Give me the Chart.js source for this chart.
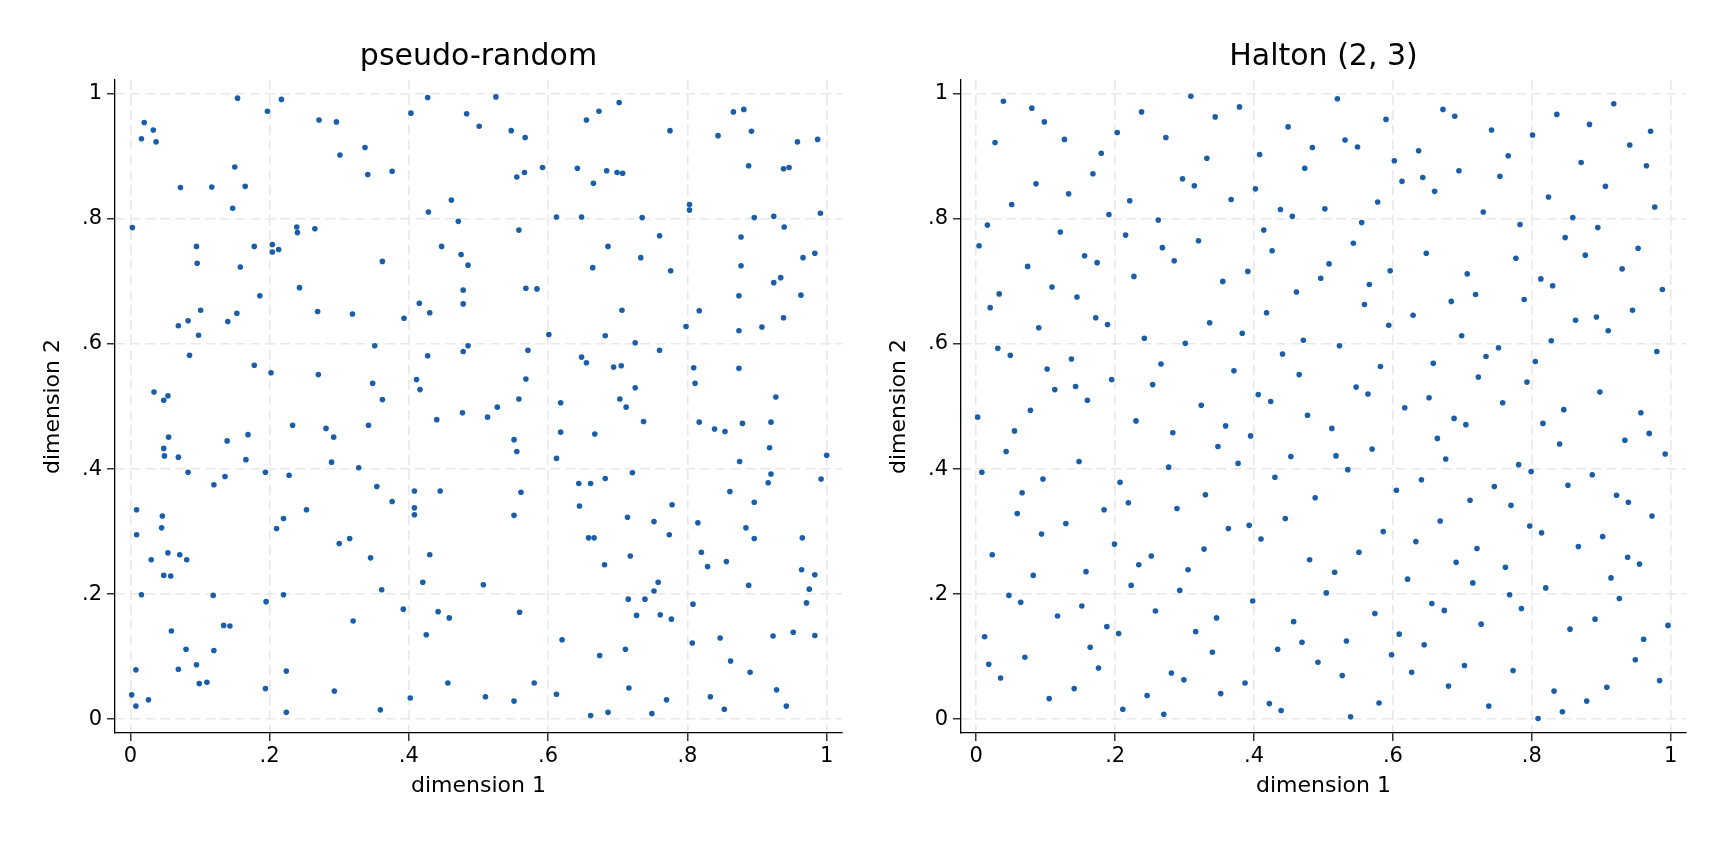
<!DOCTYPE html>
<html>
<head>
<meta charset="utf-8">
<title>pseudo-random vs Halton (2, 3)</title>
<script src="https://cdn.jsdelivr.net/npm/chart.js@4.4.1/dist/chart.umd.min.js"></script>
<style>
  html, body { margin: 0; padding: 0; background: #fff; }
  #wrap { position: relative; width: 1728px; height: 844px; }
  canvas { position: absolute; top: 0; }
</style>
</head>
<body>
<div id="wrap">
  <canvas id="randomChart" width="846" height="844" style="left:0px"></canvas>
  <canvas id="haltonChart" width="882" height="844" style="left:846px"></canvas>
</div>
<script>
var tickValues = [0, 0.2, 0.4, 0.6, 0.8, 1];
var tickLabels = ['0', '.2', '.4', '.6', '.8', '1'];
var panelTitles = ['pseudo-random', 'Halton (2, 3)'];
var axisTitles = ['dimension 1', 'dimension 2'];

// pseudo-random draws
var randomX = [
  0.020,0.033,0.016,0.037,0.154,0.197,0.217,0.271,0.296,0.301,0.337,0.341,0.376,0.403,0.427,0.150,0.072,0.117,0.165,0.147,
  0.003,0.428,0.239,0.240,0.265,0.095,0.178,0.204,0.204,0.213,0.096,0.158,0.362,0.243,0.186,0.101,0.083,0.069,0.098,0.140,
  0.153,0.269,0.319,0.393,0.415,0.430,0.085,0.178,0.351,0.427,
  0.525,0.483,0.501,0.547,0.567,0.655,0.673,0.702,0.775,0.866,0.881,0.892,0.844,0.958,0.987,0.555,0.566,0.592,0.642,0.665,
  0.684,0.699,0.707,0.888,0.938,0.946,0.461,0.471,0.612,0.648,0.735,0.803,0.803,0.896,0.924,0.991,0.939,0.558,0.447,0.475,
  0.485,0.686,0.760,0.877,0.733,0.664,0.776,0.877,0.966,0.983,0.478,0.478,0.568,0.584,0.874,0.924,0.934,0.963,0.706,0.817,
  0.938,0.798,0.874,0.907,0.601,0.682,0.725,0.760,0.485,0.478,0.571,0.648,0.655,0.694,0.705,0.809,0.874,
  0.202,0.270,0.348,0.411,0.416,0.362,0.440,0.034,0.054,0.048,0.233,0.281,0.292,0.342,0.055,0.169,0.139,0.048,0.049,0.069,
  0.166,0.289,0.083,0.194,0.228,0.328,0.136,0.120,0.354,0.408,0.445,0.376,0.408,0.408,0.009,0.046,0.220,0.045,0.210,0.253,
  0.009,0.300,0.315,0.030,0.054,0.071,0.081,0.345,0.430,0.048,0.058,0.420,0.016,0.119,0.220,0.195,0.361,0.392,0.442,0.425,
  0.320,0.059,0.134,0.143,0.080,0.120,0.008,0.069,0.095,0.099,0.110,0.224,0.194,0.293,0.402,0.002,0.008,0.026,0.224,0.359,
  0.568,0.558,0.527,0.513,0.477,0.551,0.555,0.618,0.618,0.667,0.612,0.725,0.703,0.712,0.737,0.811,0.817,0.839,0.854,0.879,
  0.920,0.927,0.918,0.875,1.000,0.992,0.920,0.916,0.861,0.896,0.884,0.896,0.965,0.964,0.983,0.975,0.971,0.888,0.815,0.820,
  0.829,0.856,0.644,0.661,0.682,0.721,0.645,0.714,0.752,0.778,0.774,0.658,0.666,0.681,0.718,0.758,0.752,0.715,0.739,0.727,
  0.761,0.777,0.808,0.807,0.847,0.862,0.890,0.923,0.952,0.983,0.928,0.942,0.833,0.853,0.770,0.749,0.716,0.686,0.661,0.612,
  0.620,0.674,0.711,0.507,0.559,0.458,0.456,0.510,0.551,0.580,0.561,0.551
];
var randomY = [
  0.954,0.942,0.928,0.923,0.993,0.972,0.991,0.958,0.955,0.902,0.914,0.871,0.876,0.969,0.994,0.883,0.850,0.851,0.852,0.817,
  0.786,0.811,0.787,0.778,0.784,0.756,0.756,0.759,0.747,0.751,0.729,0.723,0.732,0.690,0.677,0.654,0.637,0.629,0.614,0.636,
  0.649,0.652,0.648,0.641,0.665,0.650,0.582,0.566,0.597,0.581,
  0.995,0.968,0.948,0.941,0.930,0.958,0.972,0.986,0.941,0.971,0.975,0.940,0.933,0.923,0.927,0.867,0.874,0.882,0.881,0.857,
  0.877,0.874,0.873,0.885,0.880,0.882,0.830,0.796,0.803,0.803,0.802,0.823,0.814,0.802,0.804,0.809,0.787,0.782,0.756,0.743,
  0.726,0.756,0.773,0.771,0.738,0.722,0.717,0.725,0.738,0.745,0.686,0.664,0.689,0.688,0.677,0.698,0.706,0.678,0.654,0.653,
  0.642,0.628,0.621,0.627,0.615,0.613,0.602,0.590,0.597,0.588,0.590,0.579,0.570,0.563,0.565,0.562,0.561,
  0.554,0.551,0.537,0.543,0.527,0.511,0.479,0.523,0.517,0.510,0.470,0.465,0.451,0.470,0.451,0.455,0.445,0.433,0.421,0.419,
  0.415,0.411,0.395,0.395,0.390,0.402,0.388,0.375,0.372,0.365,0.365,0.348,0.338,0.327,0.335,0.325,0.321,0.306,0.305,0.335,
  0.295,0.281,0.289,0.255,0.266,0.263,0.255,0.258,0.263,0.230,0.229,0.219,0.199,0.198,0.199,0.188,0.207,0.176,0.172,0.135,
  0.157,0.141,0.150,0.149,0.112,0.110,0.079,0.080,0.087,0.057,0.059,0.077,0.049,0.045,0.034,0.039,0.021,0.031,0.011,0.015,
  0.544,0.512,0.499,0.483,0.490,0.447,0.428,0.506,0.459,0.456,0.417,0.530,0.512,0.499,0.476,0.537,0.475,0.464,0.460,0.473,
  0.475,0.515,0.434,0.412,0.422,0.384,0.392,0.378,0.364,0.347,0.306,0.289,0.290,0.239,0.231,0.208,0.186,0.214,0.314,0.267,
  0.244,0.252,0.377,0.377,0.385,0.394,0.341,0.323,0.316,0.343,0.295,0.290,0.290,0.247,0.261,0.219,0.205,0.192,0.192,0.166,
  0.167,0.160,0.184,0.122,0.130,0.093,0.075,0.133,0.139,0.134,0.047,0.021,0.036,0.016,0.031,0.009,0.050,0.011,0.006,0.040,
  0.127,0.102,0.112,0.215,0.171,0.162,0.058,0.036,0.029,0.058,0.363,0.326
];

// Halton points of the right panel, base 2 and base 3
var haltonX = [
  0.813,0.188,0.688,0.438,0.938,0.031,0.531,0.281,0.781,0.156, 0.656,0.406,0.906,0.094,0.594,0.344,0.844,0.219,0.719,0.469,
  0.969,0.016,0.516,0.266,0.766,0.141,0.641,0.391,0.891,0.078, 0.578,0.328,0.828,0.203,0.703,0.453,0.953,0.047,0.547,0.297,
  0.797,0.172,0.672,0.422,0.922,0.109,0.609,0.359,0.859,0.234, 0.734,0.484,0.984,0.008,0.508,0.258,0.758,0.133,0.633,0.383,
  0.883,0.070,0.570,0.320,0.820,0.195,0.695,0.445,0.945,0.039, 0.539,0.289,0.789,0.164,0.664,0.414,0.914,0.102,0.602,0.352,
  0.852,0.227,0.727,0.477,0.977,0.023,0.523,0.273,0.773,0.148, 0.648,0.398,0.898,0.086,0.586,0.336,0.836,0.211,0.711,0.461,
  0.961,0.055,0.555,0.305,0.805,0.180,0.680,0.430,0.930,0.117, 0.617,0.367,0.867,0.242,0.742,0.492,0.992,0.004,0.504,0.254,
  0.754,0.129,0.629,0.379,0.879,0.066,0.566,0.316,0.816,0.191, 0.691,0.441,0.941,0.035,0.535,0.285,0.785,0.160,0.660,0.410,
  0.910,0.098,0.598,0.348,0.848,0.223,0.723,0.473,0.973,0.020, 0.520,0.270,0.770,0.145,0.645,0.395,0.895,0.082,0.582,0.332,
  0.832,0.207,0.707,0.457,0.957,0.051,0.551,0.301,0.801,0.176, 0.676,0.426,0.926,0.113,0.613,0.363,0.863,0.238,0.738,0.488,
  0.988,0.012,0.512,0.262,0.762,0.137,0.637,0.387,0.887,0.074, 0.574,0.324,0.824,0.199,0.699,0.449,0.949,0.043,0.543,0.293,
  0.793,0.168,0.668,0.418,0.918,0.105,0.605,0.355,0.855,0.230, 0.730,0.480,0.980,0.027,0.527,0.277,0.777,0.152,0.652,0.402,
  0.902,0.090,0.590,0.340,0.840,0.215,0.715,0.465,0.965,0.059, 0.559,0.309,0.809,0.184,0.684,0.434,0.934,0.121,0.621,0.371,
  0.871,0.246,0.746,0.496,0.996,0.002,0.502,0.252,0.752,0.127, 0.627,0.377,0.877,0.064,0.564,0.314,0.814,0.189,0.689,0.439,
  0.939,0.033,0.533,0.283,0.783,0.158,0.658,0.408,0.908,0.096, 0.596,0.346,0.846,0.221,0.721,0.471,0.971,0.018,0.518,0.268,
  0.768,0.143,0.643,0.393,0.893,0.080,0.580,0.330,0.830,0.205, 0.705,0.455,0.955,0.049,0.549,0.299,0.799,0.174,0.674,0.424
];
var haltonY = [
  0.704,0.148,0.481,0.815,0.259,0.593,0.926,0.074,0.407,0.741, 0.185,0.519,0.852,0.296,0.630,0.963,0.012,0.346,0.679,0.123,
  0.457,0.790,0.235,0.568,0.901,0.049,0.383,0.716,0.160,0.494, 0.827,0.272,0.605,0.938,0.086,0.420,0.753,0.198,0.531,0.864,
  0.309,0.642,0.975,0.025,0.358,0.691,0.136,0.469,0.802,0.247, 0.580,0.914,0.062,0.395,0.728,0.173,0.506,0.840,0.284,0.617,
  0.951,0.099,0.432,0.765,0.210,0.543,0.877,0.321,0.654,0.988, 0.004,0.337,0.671,0.115,0.449,0.782,0.226,0.560,0.893,0.041,
  0.374,0.708,0.152,0.486,0.819,0.263,0.597,0.930,0.078,0.412, 0.745,0.189,0.523,0.856,0.300,0.634,0.967,0.016,0.350,0.683,
  0.128,0.461,0.794,0.239,0.572,0.905,0.053,0.387,0.720,0.165, 0.498,0.831,0.276,0.609,0.942,0.091,0.424,0.757,0.202,0.535,
  0.868,0.313,0.646,0.979,0.029,0.362,0.695,0.140,0.473,0.807, 0.251,0.584,0.918,0.066,0.399,0.733,0.177,0.510,0.844,0.288,
  0.621,0.955,0.103,0.436,0.770,0.214,0.547,0.881,0.325,0.658, 0.992,0.008,0.342,0.675,0.119,0.453,0.786,0.230,0.564,0.897,
  0.045,0.379,0.712,0.156,0.490,0.823,0.267,0.601,0.934,0.082, 0.416,0.749,0.193,0.527,0.860,0.305,0.638,0.971,0.021,0.354,
  0.687,0.132,0.465,0.798,0.243,0.576,0.909,0.058,0.391,0.724, 0.169,0.502,0.835,0.280,0.613,0.947,0.095,0.428,0.761,0.206,
  0.539,0.872,0.317,0.650,0.984,0.033,0.366,0.700,0.144,0.477, 0.811,0.255,0.588,0.922,0.070,0.403,0.737,0.181,0.514,0.848,
  0.292,0.626,0.959,0.107,0.440,0.774,0.218,0.551,0.885,0.329, 0.663,0.996,0.001,0.335,0.668,0.112,0.446,0.779,0.224,0.557,
  0.890,0.038,0.372,0.705,0.150,0.483,0.816,0.261,0.594,0.927, 0.075,0.409,0.742,0.187,0.520,0.853,0.298,0.631,0.964,0.014,
  0.347,0.680,0.125,0.458,0.791,0.236,0.569,0.903,0.051,0.384, 0.717,0.162,0.495,0.829,0.273,0.606,0.940,0.088,0.421,0.754,
  0.199,0.532,0.866,0.310,0.643,0.977,0.026,0.359,0.693,0.137, 0.471,0.804,0.248,0.582,0.915,0.063,0.396,0.730,0.174,0.508
];

var dotColor = '#1b5ea8';
var fontFamily = "'DejaVu Sans', 'Noto Sans', sans-serif";

function makeAxis(titleText, isX) {
  return {
    type: 'linear',
    min: -0.022,
    max: 1.022,
    afterBuildTicks: function(scale) {
      scale.ticks = tickValues.map(function(v) { return { value: v }; });
    },
    afterFit: function(scale) {
      if (isX) { scale.height = 111; } else { scale.width = 115; }
    },
    ticks: {
      callback: function(value, index) { return tickLabels[index]; },
      color: '#000',
      font: { family: fontFamily, size: 21 },
      padding: isX ? 3 : 5,
      maxRotation: 0
    },
    grid: {
      color: '#e8e8e8',
      lineWidth: 1.6,
      tickColor: '#000',
      tickLength: 8,
      tickWidth: 1.2
    },
    border: { display: true, color: '#000', width: 1.3, dash: [10, 5] },
    title: {
      display: true,
      text: titleText,
      color: '#000',
      font: { family: fontFamily, size: 22 },
      padding: isX ? { top: 0, bottom: 45 } : { top: 40, bottom: 0 }
    }
  };
}

function makeChart(canvasId, title, xs, ys, padRight) {
  var ctx = document.getElementById(canvasId).getContext('2d');
  return new Chart(ctx, {
    type: 'scatter',
    data: {
      datasets: [{
        label: title,
        data: xs.map(function(x, i) { return { x: x, y: ys[i] }; }),
        pointRadius: 2.8,
        pointBackgroundColor: dotColor,
        pointBorderWidth: 0,
        showLine: false
      }]
    },
    options: {
      responsive: false,
      animation: false,
      devicePixelRatio: 1,
      layout: { padding: { left: 0, right: padRight, top: 0, bottom: 0 } },
      plugins: {
        legend: { display: false },
        tooltip: { enabled: false },
        title: {
          display: true,
          text: title,
          fullSize: false,
          color: '#000',
          font: { family: fontFamily, size: 30, weight: 'normal' },
          padding: { top: 39, bottom: 5 }
        }
      },
      scales: {
        x: makeAxis(axisTitles[0], true),
        y: makeAxis(axisTitles[1], false)
      }
    }
  });
}

makeChart('randomChart', panelTitles[0], randomX, randomY, 3);
makeChart('haltonChart', panelTitles[1], haltonX, haltonY, 42);
</script>
</body>
</html>
